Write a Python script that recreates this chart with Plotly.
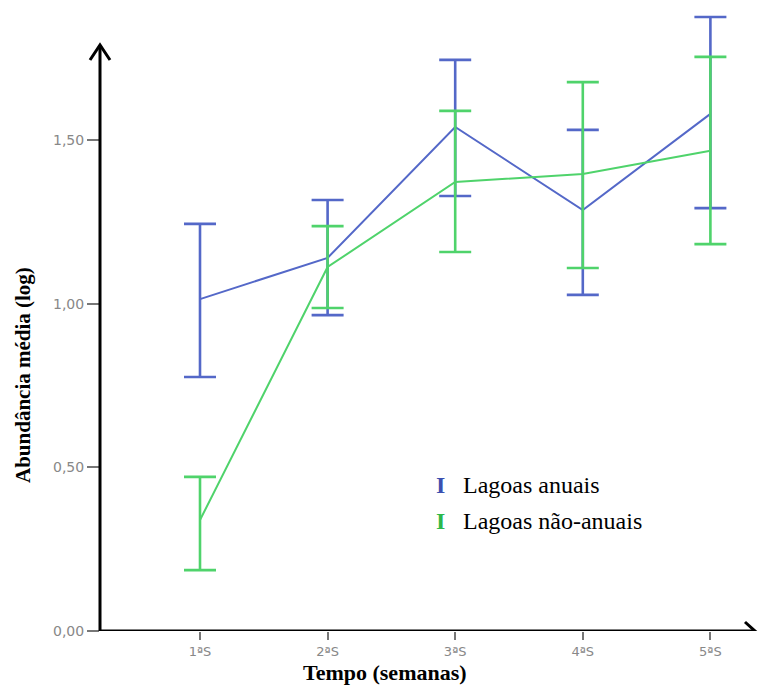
import plotly.graph_objects as go

weeks = [1, 2, 3, 4, 5]
week_labels = ["1ªS", "2ªS", "3ªS", "4ªS", "5ªS"]

anuais_mean = [1.014, 1.140, 1.540, 1.286, 1.580]
anuais_upper = [1.244, 1.317, 1.745, 1.531, 1.876]
anuais_lower = [0.776, 0.965, 1.329, 1.027, 1.292]

nao_mean = [0.339, 1.112, 1.372, 1.396, 1.467]
nao_upper = [0.471, 1.237, 1.589, 1.677, 1.754]
nao_lower = [0.186, 0.987, 1.158, 1.109, 1.182]

y_ticks = [0.0, 0.5, 1.0, 1.5]
y_tick_labels = ["0,00", "0,50", "1,00", "1,50"]

BLUE = "#5468c8"
GREEN = "#4fd36b"

fig = go.Figure()


def add_series(mean, upper, lower, color, name):
    fig.add_trace(go.Scatter(
        x=weeks, y=mean, mode="lines", name=name,
        line=dict(color=color, width=2),
        error_y=dict(type="data", symmetric=False,
                     array=[u - m for u, m in zip(upper, mean)],
                     arrayminus=[m - l for m, l in zip(mean, lower)],
                     color=color, thickness=2.6, width=16),
        showlegend=False, cliponaxis=False,
    ))


add_series(anuais_mean, anuais_upper, anuais_lower, BLUE, "Lagoas anuais")
add_series(nao_mean, nao_upper, nao_lower, GREEN, "Lagoas não-anuais")

W, H = 759, 686
ml, mr, mt, mb = 100, 2, 0, 55
pw = W - ml - mr
ph = H - mt - mb
ppu = 327.3  # pixels per y unit
y_top = ph / ppu
px_per_x = 127.6
x_left = 1 - ml / px_per_x
x_right = x_left + pw / px_per_x

# axis lines with arrows
ax_tip_y = (631 - 45) / ppu
right_tip = (755 - ml) / pw
dx_y = 10 / pw
dy_y = 15 / ppu
fig.add_shape(type="line", xref="paper", yref="y", x0=0, x1=0, y0=0, y1=ax_tip_y,
              line=dict(color="black", width=3))
fig.add_shape(type="path", xref="paper", yref="y",
              path=f"M {-dx_y} {ax_tip_y - dy_y} L 0 {ax_tip_y} L {dx_y} {ax_tip_y - dy_y}",
              line=dict(color="black", width=3))
fig.add_shape(type="line", xref="paper", yref="y", x0=0, x1=right_tip, y0=0, y1=0,
              line=dict(color="black", width=3))
dx_x = 10 / pw
dy_x = 9 / ppu
fig.add_shape(type="path", xref="paper", yref="y",
              path=f"M {right_tip - dx_x} {dy_x} L {right_tip} 0 L {right_tip - dx_x} {-dy_x}",
              line=dict(color="black", width=3))

# legend
icon_x = (440 - ml) / pw
text_x = (461 - ml) / pw
for txt, col, py in [("Lagoas anuais", "#3b4fb0", 485), ("Lagoas não-anuais", "#2cb84a", 521)]:
    yy = (631 - py) / ph
    fig.add_annotation(
        xref="paper", yref="paper", x=icon_x, y=yy,
        xanchor="center", yanchor="middle", showarrow=False,
        text="<b>I</b>",
        font=dict(family="Liberation Serif", size=24, color=col),
    )
    fig.add_annotation(
        xref="paper", yref="paper", x=text_x, y=yy,
        xanchor="left", yanchor="middle", showarrow=False,
        text=txt,
        font=dict(family="Liberation Serif", size=24, color="black"),
    )

# axis titles
fig.add_annotation(xref="paper", yref="paper", x=(23 - ml) / pw, y=(631 - 375) / ph,
                   xanchor="center", yanchor="middle", showarrow=False, textangle=-90,
                   text="<b>Abundância média (log)</b>",
                   font=dict(family="Liberation Serif", size=21, color="black"))
fig.add_annotation(xref="paper", yref="paper", x=(385 - ml) / pw, y=(631 - 673) / ph,
                   xanchor="center", yanchor="middle", showarrow=False,
                   text="<b>Tempo (semanas)</b>",
                   font=dict(family="Liberation Serif", size=22, color="black"))

fig.update_layout(
    width=W, height=H,
    margin=dict(l=ml, r=mr, t=mt, b=mb),
    plot_bgcolor="white", paper_bgcolor="white",
    xaxis=dict(range=[x_left, x_right], tickvals=weeks, ticktext=week_labels,
               showgrid=False, zeroline=False, showline=False,
               ticks="outside", ticklen=8, tickwidth=2, tickcolor="#777",
               tickfont=dict(family="DejaVu Sans", size=13, color="#888")),
    yaxis=dict(range=[0, y_top], tickvals=y_ticks, ticktext=y_tick_labels,
               showgrid=False, zeroline=False, showline=False,
               ticks="outside", ticklen=12, tickwidth=2, tickcolor="#777",
               tickfont=dict(family="DejaVu Sans", size=14, color="#888")),
)

fig.write_html("out.html", config={"displayModeBar": False},
               post_script="document.body.style.margin='0';document.body.style.overflow='hidden';")
